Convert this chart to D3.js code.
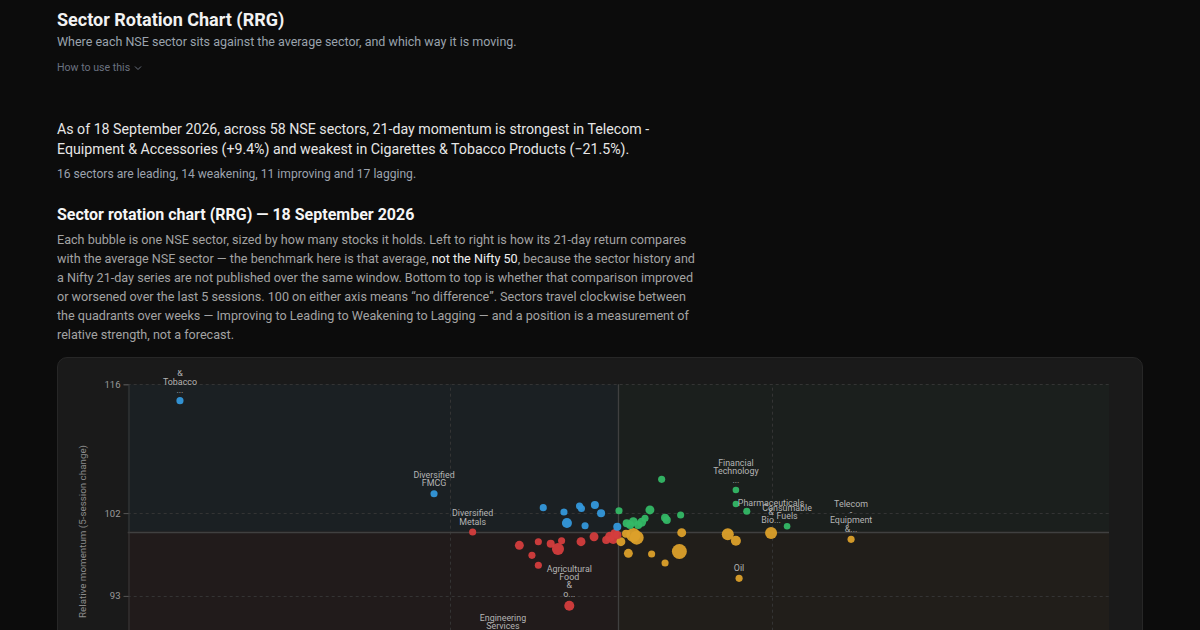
<!DOCTYPE html>
<html>
<head>
<meta charset="utf-8">
<script src="https://cdn.jsdelivr.net/npm/d3@7"></script>
<style>
html,body{margin:0;padding:0;background:#0c0c0c;width:1200px;height:630px;overflow:hidden;font-family:Roboto,"Noto Sans",sans-serif;}
.abs{position:absolute;left:57px;white-space:nowrap;}
#title{top:8px;font-size:18px;font-weight:700;line-height:24px;color:#f2f2f2;}
#sub{top:33px;font-size:12.5px;line-height:18px;color:#9aa3ad;}
#how{top:60px;font-size:10.6px;line-height:16px;color:#6b7280;}
#how svg{vertical-align:middle;margin-left:4px;}
#lead{top:119px;font-size:14.2px;line-height:20px;color:#e6e6e6;}
#counts{top:165px;font-size:12.1px;line-height:18px;color:#9ca3af;}
#h2{top:204px;font-size:16px;font-weight:700;line-height:22px;color:#f5f5f5;}
#body{top:229.5px;font-size:12.6px;line-height:19px;color:#a3a3a3;}
#body b{font-weight:400;color:#f0f0f0;}
#card{position:absolute;left:57px;top:357px;width:1084px;height:420px;background:#1a1a1a;border:1px solid #272727;border-radius:10px;}
#chart{position:absolute;left:57px;top:370px;}
</style>
</head>
<body>
<div class="abs" id="title">Sector Rotation Chart (RRG)</div>
<div class="abs" id="sub">Where each NSE sector sits against the average sector, and which way it is moving.</div>
<div class="abs" id="how">How to use this<svg width="8" height="6" viewBox="0 0 8 6"><path d="M1 1.5 L4 4.5 L7 1.5" fill="none" stroke="#6b7280" stroke-width="1"/></svg></div>
<div class="abs" id="lead">As of 18 September 2026, across 58 NSE sectors, 21-day momentum is strongest in Telecom -<br>Equipment &amp; Accessories (+9.4%) and weakest in Cigarettes &amp; Tobacco Products (−21.5%).</div>
<div class="abs" id="counts">16 sectors are leading, 14 weakening, 11 improving and 17 lagging.</div>
<div class="abs" id="h2">Sector rotation chart (RRG) — 18 September 2026</div>
<div class="abs" id="body">Each bubble is one NSE sector, sized by how many stocks it holds. Left to right is how its 21-day return compares<br>with the average NSE sector — the benchmark here is that average, <b>not the Nifty 50</b>, because the sector history and<br>a Nifty 21-day series are not published over the same window. Bottom to top is whether that comparison improved<br>or worsened over the last 5 sessions. 100 on either axis means “no difference”. Sectors travel clockwise between<br>the quadrants over weeks — Improving to Leading to Weakening to Lagging — and a position is a measurement of<br>relative strength, not a forecast.</div>
<div id="card"></div>
<svg id="chart"></svg>
<script>
// ---- data ----
const sectors = [
  "Cigarettes & Tobacco Products","Diversified FMCG","Household Appliances","Personal Care","Packaged Foods",
  "Breweries & Distilleries","Beverages","Leisure Services","Textiles & Apparels","Paper, Forest & Jute Products","Retailing",
  "Aerospace & Defense","Telecom - Services","IT - Software","IT - Services","Healthcare Services","Insurance",
  "Banks","Finance","Capital Markets","Realty","Construction","Cement & Cement Products",
  "Financial Technology (Fintech)","Entertainment","Fertilizers & Agrochemicals","Consumable Fuels",
  "Industrial Products","Auto Components","Automobiles","Power","Electrical Equipment","Gas","Transport Services",
  "Chemicals & Petrochemicals","Industrial Manufacturing","Ferrous Metals","Pharmaceuticals & Biotechnology","Oil",
  "Telecom - Equipment & Accessories","Transport Infrastructure",
  "Diversified Metals","Media","Minerals & Mining","Non - Ferrous Metals","Petroleum Products",
  "Commercial Services & Supplies","Agricultural, Commercial & Construction Vehicles","Food Products","Consumer Durables",
  "Other Utilities","Other Construction Materials","Diversified","Printing & Publication","Metals & Minerals Trading",
  "Agricultural Food & other Products","Engineering Services","Healthcare Equipment & Supplies"
];
// RS-ratio: 21-day return vs average sector (100 = same)
const rsRatio = [
  79.45,91.36,96.48,97.45,98.18,98.27,98.90,99.19,97.59,98.44,99.95,
  102.03,100.03,101.48,102.19,102.27,102.92,100.39,100.70,101.09,101.25,100.93,100.55,105.51,105.51,106.02,107.91,
  100.70,100.86,100.12,102.97,100.47,101.56,102.19,102.86,105.13,105.51,107.16,105.66,110.91,100.36,
  93.17,95.36,96.25,96.83,97.34,97.17,95.95,96.25,98.25,98.86,99.61,99.84,99.76,99.96,97.70,94.59,99.43
];
// RS-momentum: 5-session change of the ratio (100 = no change)
const rsMomentum = [
  114.22,104.11,102.59,102.12,102.77,102.50,102.88,101.98,100.92,100.63,100.52,
  105.67,102.26,102.34,101.50,101.25,101.79,100.89,101.07,101.00,101.43,100.71,100.71,104.51,102.99,102.20,100.57,
  99.62,99.33,98.89,99.87,97.63,97.55,96.58,97.83,99.70,99.00,99.84,94.91,99.15,99.75,
  99.95,98.50,98.89,98.67,99.00,98.10,97.41,96.33,98.89,99.43,99.43,99.80,99.18,99.62,91.93,88.53,99.07
];
const stockCounts = [
  7,7,7,7,7,7,9,9,14,7,9,
  7,7,11,9,9,7,9,11,11,7,9,9,6,6,7,6,
  27,27,11,11,11,7,7,31,20,14,20,7,7,9,
  7,11,7,9,7,20,7,7,11,11,14,11,14,9,14,9,9
];
const xDomain = [77, 123];
const yDomain = [84, 116];
const xTicks = [92.1, 107.2];
const yTicks = [93, 102, 116];
const quadrants = ["Improving","Leading","Weakening","Lagging"];
const quadrantColors = ["#3498db","#34b866","#dca02a","#d43d3d"];
const quadrantTints = ["rgba(52,152,219,0.05)","rgba(52,184,102,0.035)","rgba(220,160,42,0.04)","rgba(212,61,61,0.045)"];
const labelCount = 10;

// ---- chart ----
const W = 1086, H = 330;
const FONT = "Roboto, sans-serif";
const plot = {left: 70.7, top: 14.3, width: 981.3, height: 294.4};
const svg = d3.select("#chart").attr("width", W).attr("height", H).style("overflow","hidden");
const x = d3.scaleLinear().domain(xDomain).range([plot.left, plot.left + plot.width]);
const y = d3.scaleLinear().domain(yDomain).range([plot.top + plot.height, plot.top]);
const r = d3.scaleSqrt().domain([0, 40]).range([0, 8.5]);

function quadOf(xv, yv){
  if (yv >= 100) return xv >= 100 ? 1 : 0;
  return xv >= 100 ? 2 : 3;
}

// quadrant backgrounds
const qRects = [
  {q:0, x0:xDomain[0], x1:100, y0:100, y1:yDomain[1]},
  {q:1, x0:100, x1:xDomain[1], y0:100, y1:yDomain[1]},
  {q:2, x0:100, x1:xDomain[1], y0:yDomain[0], y1:100},
  {q:3, x0:xDomain[0], x1:100, y0:yDomain[0], y1:100}
];
svg.append("g").selectAll("rect").data(qRects).join("rect")
  .attr("x", d => x(d.x0)).attr("width", d => x(d.x1) - x(d.x0))
  .attr("y", d => y(d.y1)).attr("height", d => y(d.y0) - y(d.y1))
  .attr("fill", d => quadrantTints[d.q]);

// gridlines
const grid = svg.append("g").attr("stroke", "#343434").attr("stroke-dasharray", "3,3").attr("stroke-width", 1);
grid.selectAll("line.h").data(yTicks).join("line").attr("class","h")
  .attr("x1", x(xDomain[0])).attr("x2", x(xDomain[1]))
  .attr("y1", d => Math.round(y(d)) + 0.5).attr("y2", d => Math.round(y(d)) + 0.5);
grid.selectAll("line.v").data(xTicks).join("line").attr("class","v")
  .attr("y1", y(yDomain[0])).attr("y2", y(yDomain[1]))
  .attr("x1", d => Math.round(x(d)) + 0.5).attr("x2", d => Math.round(x(d)) + 0.5);

// centre lines at 100
svg.append("line").attr("x1", x(xDomain[0])).attr("x2", x(xDomain[1]))
  .attr("y1", Math.round(y(100)) + 0.5).attr("y2", Math.round(y(100)) + 0.5)
  .attr("stroke", "#404040").attr("stroke-width", 1.3);
svg.append("line").attr("y1", y(yDomain[0])).attr("y2", y(yDomain[1]))
  .attr("x1", Math.round(x(100)) + 0.5).attr("x2", Math.round(x(100)) + 0.5)
  .attr("stroke", "#404040").attr("stroke-width", 1.3);

// axes
const yAxis = svg.append("g").attr("transform", `translate(${Math.round(plot.left)+0.5},0)`)
  .call(d3.axisLeft(y).tickValues(yTicks).tickFormat(d3.format("d")).tickSize(5).tickPadding(3));
const xAxis = svg.append("g").attr("transform", `translate(0,${plot.top + plot.height})`)
  .call(d3.axisBottom(x).tickValues(xTicks).tickFormat(d3.format(".0f")).tickSize(5).tickPadding(3));
[yAxis, xAxis].forEach(g => {
  g.select(".domain").attr("stroke", "#3a3a3a");
  g.selectAll(".tick line").attr("stroke", "#555");
  g.selectAll(".tick text").attr("fill", "#9a9a9a").style("font-size", "9.5px").style("font-family", FONT);
});

svg.append("text")
  .attr("transform", `translate(25.5,${plot.top + plot.height/2}) rotate(-90)`)
  .attr("text-anchor", "middle").attr("dy", "0.35em")
  .attr("fill", "#8c8c8c").style("font-size", "9.8px").style("font-family", FONT)
  .text("Relative momentum (5-session change)");

// bubbles
const data = sectors.map((name, i) => ({
  name, xv: rsRatio[i], yv: rsMomentum[i], n: stockCounts[i], q: quadOf(rsRatio[i], rsMomentum[i]),
  dist: Math.hypot(rsRatio[i] - 100, rsMomentum[i] - 100)
}));
const sorted = data.slice().sort((a, b) => b.n - a.n);
svg.append("g").selectAll("circle").data(sorted).join("circle")
  .attr("cx", d => x(d.xv)).attr("cy", d => y(d.yv)).attr("r", d => r(d.n))
  .attr("fill", d => quadrantColors[d.q]).attr("fill-opacity", 0.95);

// labels for the outliers
const labelled = data.slice().sort((a, b) => b.dist - a.dist).slice(0, labelCount);
const lg = svg.append("g").style("font-size", "8.9px").style("font-family", FONT)
  .attr("fill", "#b4b4b4").attr("text-anchor", "middle");
labelled.forEach(d => {
  const txt = d.name.length > 21 ? d.name.slice(0, 21) + "..." : d.name;
  const words = txt.split(" ").filter(w => w.length);
  const bottom = y(d.yv) - r(d.n) - 7;
  const t = lg.append("text");
  words.forEach((w, i) => {
    t.append("tspan").attr("x", x(d.xv))
      .attr("y", bottom - (words.length - 1 - i) * 8.4).attr("dy", "0.35em").text(w);
  });
});
</script>
</body>
</html>
